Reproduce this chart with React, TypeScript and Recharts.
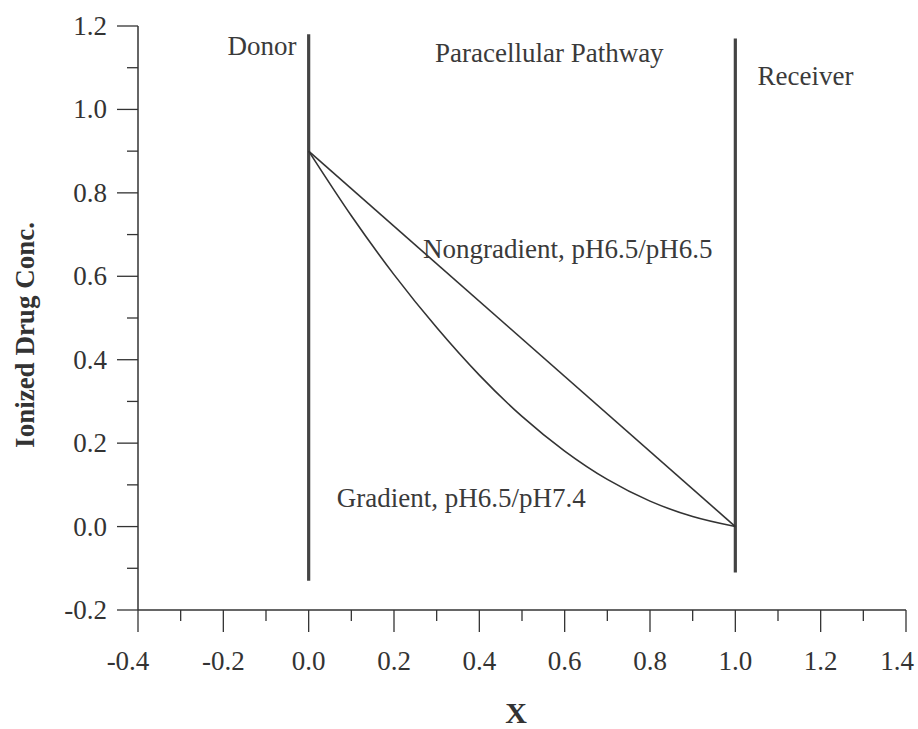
import React from 'react';
import { LineChart, Line, XAxis, YAxis, ReferenceLine, ReferenceDot } from 'recharts';

// ---- axis ticks ----
const xMajorTicks = [-0.4, -0.2, 0, 0.2, 0.4, 0.6, 0.8, 1.0, 1.2, 1.4];
const xMinorTicks = [-0.3, -0.1, 0.1, 0.3, 0.5, 0.7, 0.9, 1.1, 1.3];
const xTickLabels = ['-0.4', '-0.2', '0.0', '0.2', '0.4', '0.6', '0.8', '1.0', '1.2', '1.4'];
const yMajorTicks = [-0.2, 0, 0.2, 0.4, 0.6, 0.8, 1.0, 1.2];
const yMinorTicks = [-0.1, 0.1, 0.3, 0.5, 0.7, 0.9, 1.1];
const yTickLabels = ['-0.2', '0.0', '0.2', '0.4', '0.6', '0.8', '1.0', '1.2'];

// ---- series ----
const gradientX = [0, 0.1, 0.2, 0.3, 0.4, 0.5, 0.6, 0.7, 0.8, 0.9, 1.0];
const gradientY = [0.9, 0.745, 0.604, 0.477, 0.363, 0.264, 0.181, 0.113, 0.061, 0.024, 0];
const nongradientX = [0, 1];
const nongradientY = [0.9, 0];

// ---- membrane walls ----
const wallX = [0, 1];
const wallBottom = [-0.13, -0.11];
const wallTop = [1.18, 1.17];

// ---- annotations ----
const noteTexts = ['Donor', 'Paracellular Pathway', 'Receiver', 'Nongradient, pH6.5/pH6.5', 'Gradient, pH6.5/pH7.4'];
const noteX = [-0.19, 0.296, 1.052, 0.268, 0.066];
const noteY = [1.13, 1.114, 1.059, 0.644, 0.047];

const gradientData = gradientX.map((x, i) => ({ x, y: gradientY[i] }));
const nongradientData = nongradientX.map((x, i) => ({ x, y: nongradientY[i] }));
const xTicks = [...xMajorTicks, ...xMinorTicks].sort((a, b) => a - b);
const yTicks = [...yMajorTicks, ...yMinorTicks].sort((a, b) => a - b);

const FONT = '"Liberation Serif", "Times New Roman", serif';
const INK = '#333';

const findMajor = (arr: number[], v: number) => arr.findIndex((m) => Math.abs(m - v) < 1e-6);

const XTick = (props: any) => {
  const { x, y, payload } = props;
  const i = findMajor(xMajorTicks, payload.value);
  const major = i >= 0;
  const last = i === xMajorTicks.length - 1;
  const first = i === 0;
  const dx = first ? -10 : last ? -9 : 0;
  return (
    <g>
      <line x1={x} y1={y} x2={x} y2={y + (major ? 22 : 11)} stroke={INK} strokeWidth={1.3} />
      {major && (
        <text x={x + dx} y={y + 60} textAnchor="middle" fontFamily={FONT} fontSize={27} fill={INK}>
          {xTickLabels[i]}
        </text>
      )}
    </g>
  );
};

const YTick = (props: any) => {
  const { x, y, payload } = props;
  const i = findMajor(yMajorTicks, payload.value);
  const major = i >= 0;
  return (
    <g>
      <line x1={x} y1={y} x2={x - (major ? 21 : 11)} y2={y} stroke={INK} strokeWidth={1.3} />
      {major && (
        <text x={x - 31} y={y + 9} textAnchor="end" fontFamily={FONT} fontSize={27} fill={INK}>
          {yTickLabels[i]}
        </text>
      )}
    </g>
  );
};

const YLabel = (props: any) => {
  const vb = props.viewBox || {};
  const cx = (vb.x ?? 0) + 25;
  const cy = (vb.y ?? 0) + (vb.height ?? 0) / 2 + 17;
  return (
    <text
      x={cx}
      y={cy}
      transform={`rotate(-90, ${cx}, ${cy})`}
      textAnchor="middle"
      dominantBaseline="central"
      fontFamily={FONT}
      fontWeight="bold"
      fontSize={27}
      fill={INK}
    >
      Ionized Drug Conc.
    </text>
  );
};

const XLabel = (props: any) => {
  const vb = props.viewBox || {};
  const cx = (vb.x ?? 0) + (vb.width ?? 0) / 2 - 6;
  const y = (vb.y ?? 0) + 113;
  return (
    <text x={cx} y={y} textAnchor="middle" fontFamily={FONT} fontWeight="bold" fontSize={30} fill={INK}>
      X
    </text>
  );
};

export default function App() {
  return (
    <div style={{ position: 'absolute', left: 0, top: 0, width: 918, height: 729, background: '#fff' }}>
      <LineChart width={918} height={729} margin={{ top: 26, right: 12, left: 0, bottom: 0 }}>
        <XAxis
          type="number"
          dataKey="x"
          domain={[-0.4, 1.4]}
          ticks={xTicks}
          interval={0}
          tickSize={0}
          tickMargin={0}
          tickLine={false}
          tick={<XTick />}
          axisLine={{ stroke: INK, strokeWidth: 1.5 }}
          height={119}
          allowDataOverflow
          label={<XLabel />}
        />
        <YAxis
          type="number"
          domain={[-0.2, 1.2]}
          ticks={yTicks}
          interval={0}
          tickSize={0}
          tickMargin={0}
          tickLine={false}
          tick={<YTick />}
          axisLine={{ stroke: INK, strokeWidth: 1.5 }}
          width={138}
          allowDataOverflow
          label={<YLabel />}
        />
        {wallX.map((x, i) => (
          <ReferenceLine
            key={`wall-${i}`}
            segment={[
              { x, y: wallBottom[i] },
              { x, y: wallTop[i] },
            ]}
            stroke="#444"
            strokeWidth={3.2}
            ifOverflow="visible"
          />
        ))}
        <Line
          data={nongradientData}
          dataKey="y"
          type="linear"
          stroke={INK}
          strokeWidth={1.6}
          dot={false}
          activeDot={false}
          isAnimationActive={false}
        />
        <Line
          data={gradientData}
          dataKey="y"
          type="monotone"
          stroke={INK}
          strokeWidth={1.6}
          dot={false}
          activeDot={false}
          isAnimationActive={false}
        />
        {noteTexts.map((t, i) => (
          <ReferenceDot
            key={`note-${i}`}
            x={noteX[i]}
            y={noteY[i]}
            r={0}
            fill="none"
            stroke="none"
            ifOverflow="visible"
            label={(p: any) => (
              <text
                x={p.viewBox?.x ?? 0}
                y={p.viewBox?.y ?? 0}
                textAnchor="start"
                fontFamily={FONT}
                fontSize={27}
                fill="#3a3a3a"
              >
                {t}
              </text>
            )}
          />
        ))}
      </LineChart>
    </div>
  );
}
